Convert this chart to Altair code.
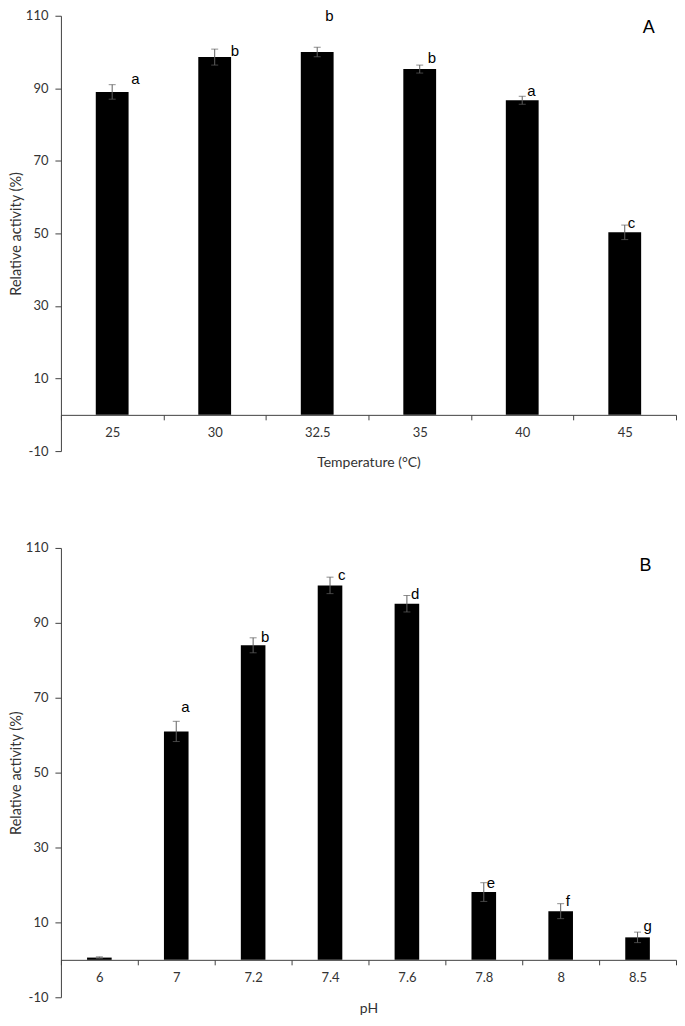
import altair as alt
import pandas as pd

# ---------------- data ----------------
temp_cats = ["25", "30", "32.5", "35", "40", "45"]
temp_vals = [89.0, 98.6, 100.0, 95.3, 86.7, 50.3]
temp_errs = [2.0, 2.2, 1.3, 1.1, 1.1, 2.0]
temp_letters = ["a", "b", "b", "b", "a", "c"]

ph_cats = ["6", "7", "7.2", "7.4", "7.6", "7.8", "8", "8.5"]
ph_vals = [0.6, 61.0, 84.0, 100.0, 95.1, 18.1, 13.0, 6.0]
ph_errs = [0.2, 2.7, 2.0, 2.2, 2.2, 2.5, 2.0, 1.4]
ph_letters = ["", "a", "b", "c", "d", "e", "f", "g"]

y_ticks = [-10, 10, 30, 50, 70, 90, 110]

# ---------------- styling ----------------
temp_label_dx = [19, 16, 8, 8, 5, 3]
temp_label_dy = [-1, 7, -26, -2, 0, 3]
ph_label_dx = [5, 5, 8, 8, 4, 3, 5, 6]
ph_label_dy = [0, -9, 4, 3, 4, 5, 2, -1]

AXIS_COL = "#404040"
LABEL_COL = "#333333"
ERR_COL = "#5f5f5f"
FONT = "Lato"
LFONT = "Liberation Sans"


def panel(cats, vals, errs, letters, xtitle, tag, width, height,
          label_dx, label_dy, tag_dx, tag_val, x_offset, title_pad):
    df = pd.DataFrame({
        "cat": cats,
        "val": vals,
        "lo": [v - e for v, e in zip(vals, errs)],
        "hi": [v + e for v, e in zip(vals, errs)],
        "lab": letters,
    })

    xax = alt.Axis(
        title=xtitle, labelAngle=0, offset=x_offset, tickBand="extent",
        domainColor=AXIS_COL, tickColor=AXIS_COL, tickSize=5,
        labelColor=LABEL_COL, labelFont=FONT, labelFontSize=13,
        labelPadding=7, titleFont=FONT, titleFontSize=14,
        titleFontWeight="normal", titleColor=LABEL_COL,
        titlePadding=title_pad, grid=False,
    )
    yax = alt.Axis(
        title="Relative activity (%)", values=y_ticks,
        labelExpr="'' + datum.value",
        domainColor=AXIS_COL, tickColor=AXIS_COL, tickSize=6,
        labelColor=LABEL_COL, labelFont=FONT, labelFontSize=13,
        labelPadding=7, titleFont=FONT, titleFontSize=14.5,
        titleFontWeight="normal", titleColor=LABEL_COL,
        titlePadding=2, grid=False,
    )
    xs = alt.Scale(domain=cats, paddingInner=0, paddingOuter=0)
    ys = alt.Scale(domain=[-10, 110], nice=False, zero=False)

    def X():
        return alt.X("cat:N", sort=cats, scale=xs, axis=xax)

    def Y(f):
        return alt.Y(f"{f}:Q", scale=ys, axis=yax)

    base = alt.Chart(df)
    bars = base.mark_bar(color="black", width=alt.RelativeBandSize(0.32)).encode(
        x=X(), y=Y("val"))
    rule = base.mark_rule(color=ERR_COL, strokeWidth=1).encode(
        x=X(), y=Y("lo"), y2="hi:Q")
    cap_t = base.mark_tick(color=ERR_COL, size=7, thickness=1).encode(
        x=X(), y=Y("hi"))
    cap_b = base.mark_tick(color=ERR_COL, size=7, thickness=1).encode(
        x=X(), y=Y("lo"))

    layers = [bars, rule, cap_t, cap_b]
    for i in range(len(cats)):
        if not letters[i]:
            continue
        sub = alt.Chart(df.iloc[[i]]).mark_text(
            align="left", baseline="alphabetic", font=LFONT, fontSize=15,
            color="black", dx=label_dx[i], dy=label_dy[i],
        ).encode(x=X(), y=Y("hi"), text="lab:N")
        layers.append(sub)

    tag_mark = alt.Chart(pd.DataFrame({"cat": [cats[-1]], "t": [tag]})).mark_text(
        align="center", baseline="middle", font=LFONT, fontSize=18,
        color="black", dx=tag_dx,
    ).encode(x=X(), y=alt.datum(tag_val, scale=ys), text="t:N")
    layers.append(tag_mark)

    return alt.layer(*layers).properties(width=width, height=height)


pa = panel(temp_cats, temp_vals, temp_errs, temp_letters, "Temperature (°C)", "A",
           616, 436, temp_label_dx, temp_label_dy, 24, 106.5, -36.3, 16)
pb = panel(ph_cats, ph_vals, ph_errs, ph_letters, "pH", "B",
           616, 450, ph_label_dx, ph_label_dy, 8, 105.2, -37.5, 17)

chart = alt.vconcat(pa, pb, spacing=72).properties(padding=0).configure_view(
    stroke=None
)

chart.save("out.html", embed_options={"renderer": "svg", "actions": False})
